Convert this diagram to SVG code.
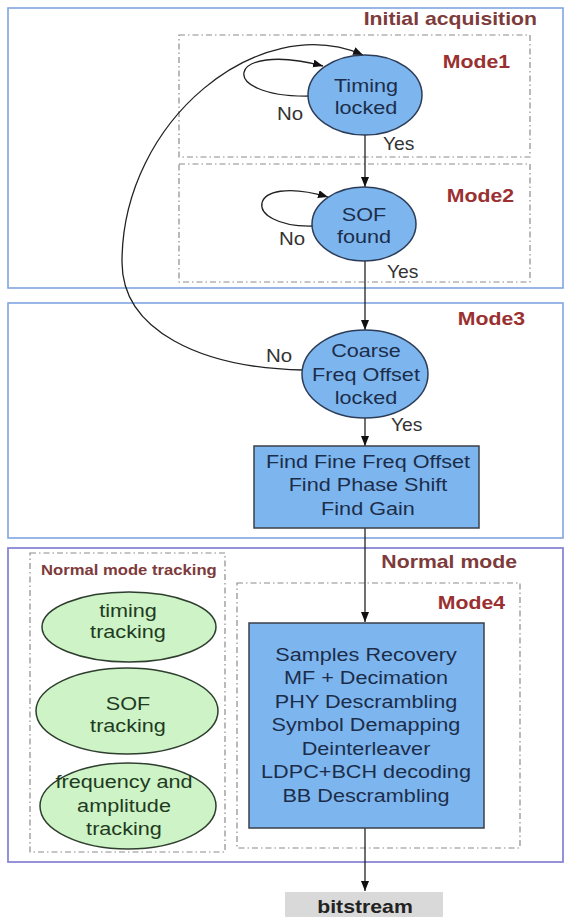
<svg xmlns="http://www.w3.org/2000/svg" width="564" height="917" viewBox="0 0 564 917">
<style>
  text { font-family: "Liberation Sans", Arial, sans-serif; }
  .region1 { fill: none; stroke: #7fa6e2; stroke-width: 1.6; }
  .region2 { fill: none; stroke: #8a86d6; stroke-width: 1.8; }
  .mode { fill: none; stroke: #8c8c8c; stroke-width: 1.2; stroke-dasharray: 6 3 1.5 3; }
  .title { font-size: 18px; font-weight: bold; fill: #7e3b3b; }
  .modelbl { font-size: 18px; font-weight: bold; fill: #9a3030; }
  .trk { font-size: 14px; font-weight: bold; fill: #7e3b3b; }
  .dec { fill: #7db6ef; stroke: #2d3d58; stroke-width: 1.5; }
  .proc { fill: #7db6ef; stroke: #3a3f48; stroke-width: 1.5; }
  .green { fill: #cdf3c6; stroke: #2e3e2e; stroke-width: 1.5; }
  .ntext { font-size: 18.5px; fill: #1c2d4a; text-anchor: middle; }
  .gtext { font-size: 18.5px; fill: #213a21; text-anchor: middle; }
  .lbl { font-size: 17.5px; fill: #333; }
  .edge { fill: none; stroke: #222; stroke-width: 1.3; }
  .out { fill: #d9d9d9; }
  .otext { font-size: 18px; font-weight: bold; fill: #222; text-anchor: middle; }
</style>
<defs>
  <marker id="arr" markerWidth="11" markerHeight="9" refX="10" refY="4" orient="auto" markerUnits="userSpaceOnUse">
    <path d="M0,0 L10,4 L0,8 z" fill="#111"/>
  </marker>
</defs>

<g id="regions">
  <rect id="initial-acquisition" class="region1" x="8" y="8" width="555" height="280"/>
  <rect id="mode3-region" class="region1" x="8" y="303" width="555" height="235"/>
  <rect id="normal-mode" class="region2" x="8" y="548" width="555" height="314"/>
  <rect id="mode1-box" class="mode" x="179" y="35" width="351" height="122"/>
  <rect id="mode2-box" class="mode" x="179" y="164" width="351" height="118"/>
  <rect id="tracking-box" class="mode" x="30" y="553" width="195" height="299"/>
  <rect id="mode4-box" class="mode" x="237" y="583" width="283" height="265"/>
  <text class="title" text-anchor="end" transform="translate(537,25) scale(1.18,1)">Initial acquisition</text>
  <text class="modelbl" text-anchor="end" transform="translate(510,68) scale(1.18,1)">Mode1</text>
  <text class="modelbl" text-anchor="end" transform="translate(514,202) scale(1.18,1)">Mode2</text>
  <text class="modelbl" text-anchor="end" transform="translate(525,325) scale(1.18,1)">Mode3</text>
  <text class="title" text-anchor="end" transform="translate(517,568) scale(1.18,1)">Normal mode</text>
  <text class="modelbl" text-anchor="end" transform="translate(505,609) scale(1.18,1)">Mode4</text>
  <text class="trk" text-anchor="start" transform="translate(41,575) scale(1.19,1)">Normal mode tracking</text>
</g>

<g id="connectors">
  <path class="edge" d="M310,96 C215,98 225,40 323,66" marker-end="url(#arr)"/>
  <path class="edge" d="M313,226 C240,228 245,172 328,197" marker-end="url(#arr)"/>
  <path class="edge" d="M303,370 C200,368 122,330 122,262 C122,120 260,10 363,55" marker-end="url(#arr)"/>
  <line class="edge" x1="365" y1="135" x2="365" y2="187" marker-end="url(#arr)"/>
  <line class="edge" x1="365" y1="261" x2="365" y2="330" marker-end="url(#arr)"/>
  <line class="edge" x1="365" y1="418" x2="365" y2="446" marker-end="url(#arr)"/>
  <line class="edge" x1="365" y1="528" x2="365" y2="622" marker-end="url(#arr)"/>
  <line class="edge" x1="365" y1="828" x2="365" y2="891" marker-end="url(#arr)"/>
  <text class="lbl" transform="translate(277,120) scale(1.17,1)">No</text>
  <text class="lbl" transform="translate(383,150) scale(1.1,1)">Yes</text>
  <text class="lbl" transform="translate(279,245) scale(1.17,1)">No</text>
  <text class="lbl" transform="translate(387,278) scale(1.1,1)">Yes</text>
  <text class="lbl" transform="translate(266,362) scale(1.17,1)">No</text>
  <text class="lbl" transform="translate(391,431) scale(1.1,1)">Yes</text>
</g>

<g id="timing-locked">
  <ellipse class="dec" cx="365" cy="95" rx="57" ry="40"/>
  <text class="ntext" transform="translate(366,0) scale(1.17,1)"><tspan x="0" y="92">Timing</tspan><tspan x="0" y="114">locked</tspan></text>
</g>

<g id="sof-found">
  <ellipse class="dec" cx="364" cy="224" rx="52" ry="37"/>
  <text class="ntext" transform="translate(364,0) scale(1.17,1)"><tspan x="0" y="221">SOF</tspan><tspan x="0" y="243">found</tspan></text>
</g>

<g id="coarse-freq">
  <ellipse class="dec" cx="365" cy="374" rx="63" ry="44"/>
  <text class="ntext" transform="translate(366,0) scale(1.17,1)"><tspan x="0" y="357">Coarse</tspan><tspan x="0" y="381">Freq Offset</tspan><tspan x="0" y="404">locked</tspan></text>
</g>

<g id="fine-estimation">
  <rect class="proc" x="254" y="446" width="225" height="82"/>
  <text class="ntext" transform="translate(368,0) scale(1.17,1)"><tspan x="0" y="468">Find Fine Freq Offset</tspan><tspan x="0" y="491.5">Find Phase Shift</tspan><tspan x="0" y="515">Find Gain</tspan></text>
</g>

<g id="demod-chain">
  <rect class="proc" x="249" y="623" width="235" height="205"/>
  <text class="ntext" transform="translate(366,0) scale(1.17,1)"><tspan x="0" y="661">Samples Recovery</tspan><tspan x="0" y="684.5">MF + Decimation</tspan><tspan x="0" y="708">PHY Descrambling</tspan><tspan x="0" y="731.5">Symbol Demapping</tspan><tspan x="0" y="755">Deinterleaver</tspan><tspan x="0" y="778.5">LDPC+BCH decoding</tspan><tspan x="0" y="802">BB Descrambling</tspan></text>
</g>

<g id="timing-tracking">
  <ellipse class="green" cx="129" cy="627" rx="87" ry="35"/>
  <text class="gtext" transform="translate(128,0) scale(1.17,1)"><tspan x="0" y="617">timing</tspan><tspan x="0" y="638">tracking</tspan></text>
</g>

<g id="sof-tracking">
  <ellipse class="green" cx="127" cy="711" rx="91" ry="43"/>
  <text class="gtext" transform="translate(128,0) scale(1.17,1)"><tspan x="0" y="710">SOF</tspan><tspan x="0" y="732">tracking</tspan></text>
</g>

<g id="freq-amp-tracking">
  <ellipse class="green" cx="128" cy="806" rx="88" ry="43"/>
  <text class="gtext" transform="translate(124,0) scale(1.17,1)"><tspan x="0" y="788">frequency and</tspan><tspan x="0" y="812">amplitude</tspan><tspan x="0" y="835">tracking</tspan></text>
</g>

<g id="bitstream">
  <rect class="out" x="285" y="892" width="158" height="30"/>
  <text class="otext" transform="translate(365,913) scale(1.18,1)">bitstream</text>
</g>
</svg>
